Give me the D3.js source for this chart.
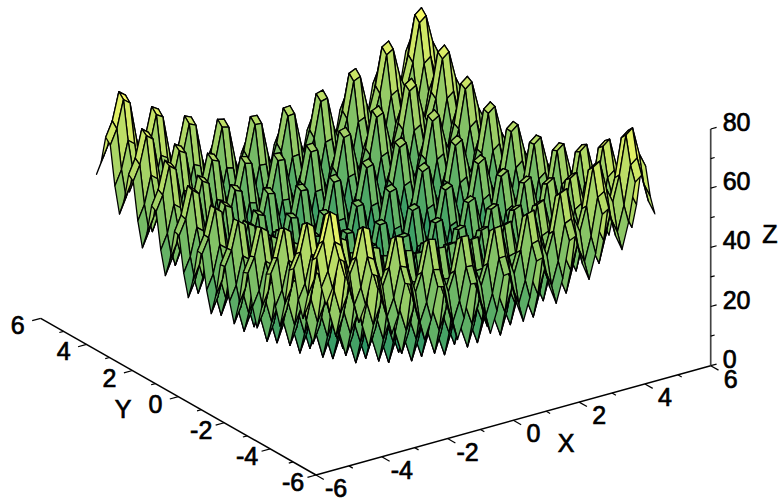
<!DOCTYPE html>
<html><head><meta charset="utf-8">
<script src="https://cdn.jsdelivr.net/npm/d3@7"></script>
<style>html,body{margin:0;background:#fff}svg{display:block}text{font-family:"Liberation Sans",Arial,sans-serif;fill:#000}</style>
</head><body><svg id="c" width="781" height="499"></svg>
<script>
// Estimated surface heights (z x 10) on the mesh; no generator is used. Values were estimated from the
// picture's peak and valley heights, assuming the regular bowl-and-egg-crate shape it shows.
const xMesh = [-5,-4.8,-4.6,-4.4,-4.2,-4,-3.8,-3.6,-3.4,-3.2,-3,-2.8,-2.6,-2.4,-2.2,-2,-1.8,-1.6,-1.4,-1.2,-1,-0.8,-0.6,-0.4,-0.2,0,0.2,0.4,0.6,0.8,1,1.2,1.4,1.6,1.8,2,2.2,2.4,2.6,2.8,3,3.2,3.4,3.6,3.8,4,4.2,4.4,4.6,4.8,5];
const yMesh = xMesh.slice();
const zTenths = [
[500,550,643,625,496,410,464,561,547,422,340,398,499,489,368,290,352,457,451,334,260,326,435,433,320,250,320,433,435,326,260,334,451,457,352,290,368,489,499,398,340,422,547,561,464,410,496,625,643,550,500],
[550,599,692,674,545,460,513,610,596,471,390,447,548,538,417,340,401,506,500,383,310,375,484,482,369,300,369,482,484,375,310,383,500,506,401,340,417,538,548,447,390,471,596,610,513,460,545,674,692,599,550],
[643,692,785,767,638,553,606,703,689,564,483,540,641,631,510,433,494,599,593,476,403,468,577,575,462,393,462,575,577,468,403,476,593,599,494,433,510,631,641,540,483,564,689,703,606,553,638,767,785,692,643],
[625,674,767,749,620,535,588,685,671,546,465,522,623,613,492,415,476,581,575,458,385,450,559,557,444,375,444,557,559,450,385,458,575,581,476,415,492,613,623,522,465,546,671,685,588,535,620,749,767,674,625],
[496,545,638,620,491,406,459,556,542,417,336,393,494,484,363,286,347,452,446,329,256,321,430,428,315,246,315,428,430,321,256,329,446,452,347,286,363,484,494,393,336,417,542,556,459,406,491,620,638,545,496],
[410,460,553,535,406,320,374,471,457,332,250,308,409,399,278,200,262,367,361,244,170,236,345,343,230,160,230,343,345,236,170,244,361,367,262,200,278,399,409,308,250,332,457,471,374,320,406,535,553,460,410],
[464,513,606,588,459,374,427,524,510,385,304,361,462,452,331,254,315,420,414,297,224,289,398,396,283,214,283,396,398,289,224,297,414,420,315,254,331,452,462,361,304,385,510,524,427,374,459,588,606,513,464],
[561,610,703,685,556,471,524,621,607,482,401,458,559,549,428,351,412,517,511,394,321,386,495,493,380,311,380,493,495,386,321,394,511,517,412,351,428,549,559,458,401,482,607,621,524,471,556,685,703,610,561],
[547,596,689,671,542,457,510,607,593,468,387,444,545,535,414,337,398,503,497,380,307,372,481,479,366,297,366,479,481,372,307,380,497,503,398,337,414,535,545,444,387,468,593,607,510,457,542,671,689,596,547],
[422,471,564,546,417,332,385,482,468,343,262,319,420,410,289,212,273,378,372,255,182,247,356,354,241,172,241,354,356,247,182,255,372,378,273,212,289,410,420,319,262,343,468,482,385,332,417,546,564,471,422],
[340,390,483,465,336,250,304,401,387,262,180,238,339,329,208,130,192,297,291,174,100,166,275,273,160,90,160,273,275,166,100,174,291,297,192,130,208,329,339,238,180,262,387,401,304,250,336,465,483,390,340],
[398,447,540,522,393,308,361,458,444,319,238,295,396,386,265,188,249,354,348,231,158,223,332,330,217,148,217,330,332,223,158,231,348,354,249,188,265,386,396,295,238,319,444,458,361,308,393,522,540,447,398],
[499,548,641,623,494,409,462,559,545,420,339,396,497,487,366,289,350,455,449,332,259,324,433,431,318,249,318,431,433,324,259,332,449,455,350,289,366,487,497,396,339,420,545,559,462,409,494,623,641,548,499],
[489,538,631,613,484,399,452,549,535,410,329,386,487,477,356,279,340,445,439,322,249,314,423,421,308,239,308,421,423,314,249,322,439,445,340,279,356,477,487,386,329,410,535,549,452,399,484,613,631,538,489],
[368,417,510,492,363,278,331,428,414,289,208,265,366,356,235,158,219,324,318,201,128,193,302,300,187,118,187,300,302,193,128,201,318,324,219,158,235,356,366,265,208,289,414,428,331,278,363,492,510,417,368],
[290,340,433,415,286,200,254,351,337,212,130,188,289,279,158,80,142,247,241,124,50,116,225,223,110,40,110,223,225,116,50,124,241,247,142,80,158,279,289,188,130,212,337,351,254,200,286,415,433,340,290],
[352,401,494,476,347,262,315,412,398,273,192,249,350,340,219,142,203,308,302,185,112,177,286,284,171,102,171,284,286,177,112,185,302,308,203,142,219,340,350,249,192,273,398,412,315,262,347,476,494,401,352],
[457,506,599,581,452,367,420,517,503,378,297,354,455,445,324,247,308,413,407,290,217,282,391,389,276,207,276,389,391,282,217,290,407,413,308,247,324,445,455,354,297,378,503,517,420,367,452,581,599,506,457],
[451,500,593,575,446,361,414,511,497,372,291,348,449,439,318,241,302,407,401,284,211,276,385,383,270,201,270,383,385,276,211,284,401,407,302,241,318,439,449,348,291,372,497,511,414,361,446,575,593,500,451],
[334,383,476,458,329,244,297,394,380,255,174,231,332,322,201,124,185,290,284,167,94,159,268,266,153,84,153,266,268,159,94,167,284,290,185,124,201,322,332,231,174,255,380,394,297,244,329,458,476,383,334],
[260,310,403,385,256,170,224,321,307,182,100,158,259,249,128,50,112,217,211,94,20,86,195,193,80,10,80,193,195,86,20,94,211,217,112,50,128,249,259,158,100,182,307,321,224,170,256,385,403,310,260],
[326,375,468,450,321,236,289,386,372,247,166,223,324,314,193,116,177,282,276,159,86,151,260,258,145,76,145,258,260,151,86,159,276,282,177,116,193,314,324,223,166,247,372,386,289,236,321,450,468,375,326],
[435,484,577,559,430,345,398,495,481,356,275,332,433,423,302,225,286,391,385,268,195,260,369,367,254,185,254,367,369,260,195,268,385,391,286,225,302,423,433,332,275,356,481,495,398,345,430,559,577,484,435],
[433,482,575,557,428,343,396,493,479,354,273,330,431,421,300,223,284,389,383,266,193,258,367,365,252,183,252,365,367,258,193,266,383,389,284,223,300,421,431,330,273,354,479,493,396,343,428,557,575,482,433],
[320,369,462,444,315,230,283,380,366,241,160,217,318,308,187,110,171,276,270,153,80,145,254,252,139,70,139,252,254,145,80,153,270,276,171,110,187,308,318,217,160,241,366,380,283,230,315,444,462,369,320],
[250,300,393,375,246,160,214,311,297,172,90,148,249,239,118,40,102,207,201,84,10,76,185,183,70,0,70,183,185,76,10,84,201,207,102,40,118,239,249,148,90,172,297,311,214,160,246,375,393,300,250],
[320,369,462,444,315,230,283,380,366,241,160,217,318,308,187,110,171,276,270,153,80,145,254,252,139,70,139,252,254,145,80,153,270,276,171,110,187,308,318,217,160,241,366,380,283,230,315,444,462,369,320],
[433,482,575,557,428,343,396,493,479,354,273,330,431,421,300,223,284,389,383,266,193,258,367,365,252,183,252,365,367,258,193,266,383,389,284,223,300,421,431,330,273,354,479,493,396,343,428,557,575,482,433],
[435,484,577,559,430,345,398,495,481,356,275,332,433,423,302,225,286,391,385,268,195,260,369,367,254,185,254,367,369,260,195,268,385,391,286,225,302,423,433,332,275,356,481,495,398,345,430,559,577,484,435],
[326,375,468,450,321,236,289,386,372,247,166,223,324,314,193,116,177,282,276,159,86,151,260,258,145,76,145,258,260,151,86,159,276,282,177,116,193,314,324,223,166,247,372,386,289,236,321,450,468,375,326],
[260,310,403,385,256,170,224,321,307,182,100,158,259,249,128,50,112,217,211,94,20,86,195,193,80,10,80,193,195,86,20,94,211,217,112,50,128,249,259,158,100,182,307,321,224,170,256,385,403,310,260],
[334,383,476,458,329,244,297,394,380,255,174,231,332,322,201,124,185,290,284,167,94,159,268,266,153,84,153,266,268,159,94,167,284,290,185,124,201,322,332,231,174,255,380,394,297,244,329,458,476,383,334],
[451,500,593,575,446,361,414,511,497,372,291,348,449,439,318,241,302,407,401,284,211,276,385,383,270,201,270,383,385,276,211,284,401,407,302,241,318,439,449,348,291,372,497,511,414,361,446,575,593,500,451],
[457,506,599,581,452,367,420,517,503,378,297,354,455,445,324,247,308,413,407,290,217,282,391,389,276,207,276,389,391,282,217,290,407,413,308,247,324,445,455,354,297,378,503,517,420,367,452,581,599,506,457],
[352,401,494,476,347,262,315,412,398,273,192,249,350,340,219,142,203,308,302,185,112,177,286,284,171,102,171,284,286,177,112,185,302,308,203,142,219,340,350,249,192,273,398,412,315,262,347,476,494,401,352],
[290,340,433,415,286,200,254,351,337,212,130,188,289,279,158,80,142,247,241,124,50,116,225,223,110,40,110,223,225,116,50,124,241,247,142,80,158,279,289,188,130,212,337,351,254,200,286,415,433,340,290],
[368,417,510,492,363,278,331,428,414,289,208,265,366,356,235,158,219,324,318,201,128,193,302,300,187,118,187,300,302,193,128,201,318,324,219,158,235,356,366,265,208,289,414,428,331,278,363,492,510,417,368],
[489,538,631,613,484,399,452,549,535,410,329,386,487,477,356,279,340,445,439,322,249,314,423,421,308,239,308,421,423,314,249,322,439,445,340,279,356,477,487,386,329,410,535,549,452,399,484,613,631,538,489],
[499,548,641,623,494,409,462,559,545,420,339,396,497,487,366,289,350,455,449,332,259,324,433,431,318,249,318,431,433,324,259,332,449,455,350,289,366,487,497,396,339,420,545,559,462,409,494,623,641,548,499],
[398,447,540,522,393,308,361,458,444,319,238,295,396,386,265,188,249,354,348,231,158,223,332,330,217,148,217,330,332,223,158,231,348,354,249,188,265,386,396,295,238,319,444,458,361,308,393,522,540,447,398],
[340,390,483,465,336,250,304,401,387,262,180,238,339,329,208,130,192,297,291,174,100,166,275,273,160,90,160,273,275,166,100,174,291,297,192,130,208,329,339,238,180,262,387,401,304,250,336,465,483,390,340],
[422,471,564,546,417,332,385,482,468,343,262,319,420,410,289,212,273,378,372,255,182,247,356,354,241,172,241,354,356,247,182,255,372,378,273,212,289,410,420,319,262,343,468,482,385,332,417,546,564,471,422],
[547,596,689,671,542,457,510,607,593,468,387,444,545,535,414,337,398,503,497,380,307,372,481,479,366,297,366,479,481,372,307,380,497,503,398,337,414,535,545,444,387,468,593,607,510,457,542,671,689,596,547],
[561,610,703,685,556,471,524,621,607,482,401,458,559,549,428,351,412,517,511,394,321,386,495,493,380,311,380,493,495,386,321,394,511,517,412,351,428,549,559,458,401,482,607,621,524,471,556,685,703,610,561],
[464,513,606,588,459,374,427,524,510,385,304,361,462,452,331,254,315,420,414,297,224,289,398,396,283,214,283,396,398,289,224,297,414,420,315,254,331,452,462,361,304,385,510,524,427,374,459,588,606,513,464],
[410,460,553,535,406,320,374,471,457,332,250,308,409,399,278,200,262,367,361,244,170,236,345,343,230,160,230,343,345,236,170,244,361,367,262,200,278,399,409,308,250,332,457,471,374,320,406,535,553,460,410],
[496,545,638,620,491,406,459,556,542,417,336,393,494,484,363,286,347,452,446,329,256,321,430,428,315,246,315,428,430,321,256,329,446,452,347,286,363,484,494,393,336,417,542,556,459,406,491,620,638,545,496],
[625,674,767,749,620,535,588,685,671,546,465,522,623,613,492,415,476,581,575,458,385,450,559,557,444,375,444,557,559,450,385,458,575,581,476,415,492,613,623,522,465,546,671,685,588,535,620,749,767,674,625],
[643,692,785,767,638,553,606,703,689,564,483,540,641,631,510,433,494,599,593,476,403,468,577,575,462,393,462,575,577,468,403,476,593,599,494,433,510,631,641,540,483,564,689,703,606,553,638,767,785,692,643],
[550,599,692,674,545,460,513,610,596,471,390,447,548,538,417,340,401,506,500,383,310,375,484,482,369,300,369,482,484,375,310,383,500,506,401,340,417,538,548,447,390,471,596,610,513,460,545,674,692,599,550],
[500,550,643,625,496,410,464,561,547,422,340,398,499,489,368,290,352,457,451,334,260,326,435,433,320,250,320,433,435,326,260,334,451,457,352,290,368,489,499,398,340,422,547,561,464,410,496,625,643,550,500]
];
const xTicks = [-6,-5,-4,-3,-2,-1,0,1,2,3,4,5,6];
const yTicks = xTicks.slice();
const zTicks = [0,10,20,30,40,50,60,70,80];
const xLabels = [-6,-4,-2,0,2,4,6];
const yLabels = [-6,-4,-2,0,2,4,6];
const zLabels = [0,20,40,60,80];

const svg = d3.select('#c');
const corner = [316,475];
const xPx = d3.scaleLinear([-6,6],[0,394.7]), xPy = d3.scaleLinear([-6,6],[0,-109.3]);
const yPx = d3.scaleLinear([-6,6],[0,-275.3]), yPy = d3.scaleLinear([-6,6],[0,-156.7]);
const zPy = d3.scaleLinear([0,80],[0,-236.7]);
const proj = (x,y,z) => [corner[0]+xPx(x)+yPx(y), corner[1]+xPy(x)+yPy(y)+zPy(z)];
const zs = zTenths.map(r => r.map(v => v/10));
const color = d3.scaleLinear().domain(d3.extent(zs.flat())).range(['#008066','#ffff66']);

const cells = [];
for (let i=xMesh.length-2;i>=0;i--) for (let j=yMesh.length-2;j>=0;j--) {
  const a=[xMesh[i],yMesh[j],zs[i][j]], b=[xMesh[i+1],yMesh[j],zs[i+1][j]],
        c=[xMesh[i+1],yMesh[j+1],zs[i+1][j+1]], d=[xMesh[i],yMesh[j+1],zs[i][j+1]];
  cells.push({pts:[a,b,c,d], z:(a[2]*2+d3.mean([a,b,c,d],p=>p[2]))/3});
}
const line = d3.line().curve(d3.curveLinearClosed);
svg.append('g').selectAll('path').data(cells).join('path')
  .attr('d', d => line(d.pts.map(p => proj(p[0],p[1],p[2]))))
  .attr('fill', d => color(d.z)).attr('stroke','#000').attr('stroke-width',1.3).attr('stroke-linejoin','round');

const ax = svg.append('g').attr('stroke','#000').attr('fill','none');
const seg = (p,q,w,col) => ax.append('path').attr('d',d3.line()([p,q])).attr('stroke-width',w).attr('stroke',col||'#000');
seg(proj(-6,-6,0),proj(6,-6,0),1.5);
seg(proj(-6,-6,0),proj(-6,6,0),1.5);
seg(proj(6,-6,0),proj(6,-6,80),1.7,'#444');
xTicks.forEach(t => { const p=proj(t,-6,0), L=t%2===0?0.34:0.17; const q=proj(t,-6-L*1.0,0); seg(p,q,1.2); });
yTicks.forEach(t => { const p=proj(-6,t,0), L=t%2===0?0.26:0.13; seg(p,proj(-6-L,t,0),1.2); });
zTicks.forEach(t => { const p=proj(6,-6,t), L=t%20===0?0.18:0.12; seg(p,proj(6+L,-6,t),1.2); });

const lab = svg.append('g').attr('font-size',25).attr('stroke','#000').attr('stroke-width',0.7);
const put=(x,y,s,a)=>lab.append('text').attr('x',x).attr('y',y).attr('dy','0.36em').attr('text-anchor',a||'middle').text(s);
xLabels.forEach(t=>{const p=proj(t,-6,0);put(p[0]+20,p[1]+13,t);});
yLabels.forEach(t=>{const p=proj(-6,t,0);put(p[0]-23,p[1]+7,t);});
zLabels.forEach(t=>{const p=proj(6,-6,t);put(p[0]+12,p[1]-7,t,'start');});
put(566,443,'X');put(123,409,'Y');put(770,234,'Z');
</script></body></html>
